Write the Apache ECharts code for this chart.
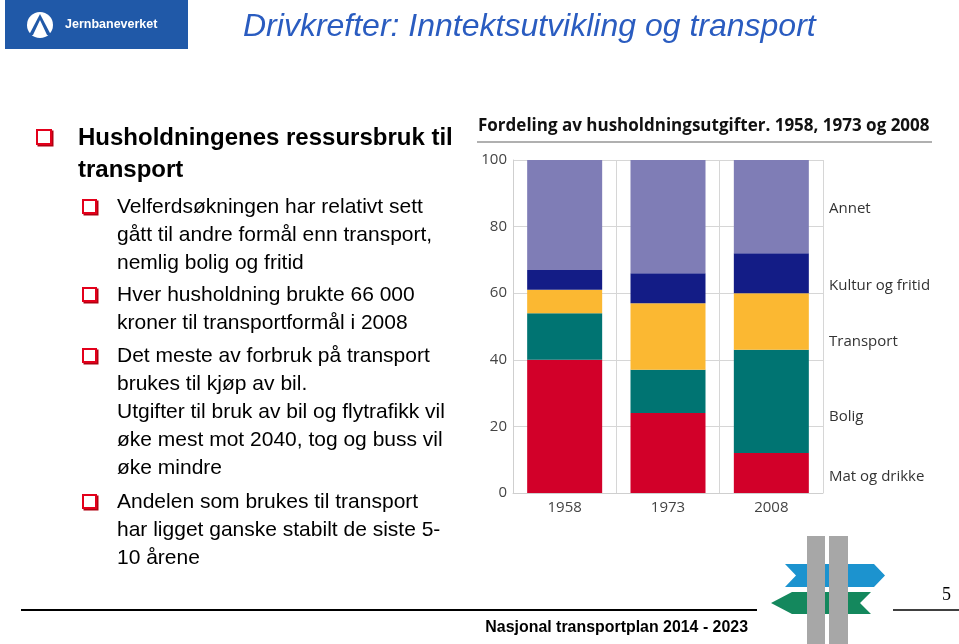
<!DOCTYPE html>
<html>
<head>
<meta charset="utf-8">
<script src="https://cdn.jsdelivr.net/npm/echarts@6/dist/echarts.min.js"></script>
<style>
  html, body { margin: 0; padding: 0; background: #fff; }
  #main { width: 959px; height: 644px; }
</style>
</head>
<body>
<div id="main"></div>
<script>
// data
var years = ["1958", "1973", "2008"];
var matOgDrikke = [40, 24, 12];
var bolig = [14, 13, 31];
var transport = [7, 20, 17];
var kulturOgFritid = [6, 9, 12];
var annet = [33, 34, 28];
var seriesNames = ["Mat og drikke", "Bolig", "Transport", "Kultur og fritid", "Annet"];
var seriesColors = ["#d20029", "#007472", "#fbb832", "#131c86", "#7f7db6"];
var legendY = [477, 417, 342, 286, 209];

var chartTitle = "Fordeling av husholdningsutgifter. 1958, 1973 og 2008";
var slideTitle = "Drivkrefter: Inntektsutvikling og transport";
var footer = "Nasjonal transportplan 2014 - 2023";

// slide text: [text, y, bold, x]
var lines = [
  ["Husholdningenes ressursbruk til", 138, true, 78],
  ["transport", 170, true, 78],
  ["Velferdsøkningen har relativt sett", 207, false, 117],
  ["gått til andre formål enn transport,", 235, false, 117],
  ["nemlig bolig og fritid", 263, false, 117],
  ["Hver husholdning brukte 66 000", 295, false, 117],
  ["kroner til transportformål i 2008", 323, false, 117],
  ["Det meste av forbruk på transport", 356, false, 117],
  ["brukes til kjøp av bil.", 384, false, 117],
  ["Utgifter til bruk av bil og flytrafikk vil", 412, false, 117],
  ["øke mest mot 2040, tog og buss vil", 440, false, 117],
  ["øke mindre", 468, false, 117],
  ["Andelen som brukes til transport", 502, false, 117],
  ["har ligget ganske stabilt de siste 5-", 530, false, 117],
  ["10 årene", 558, false, 117]
];
// bullets: [x, y, size]
var bullets = [[37, 130, 14], [83, 200, 13], [83, 288, 13], [83, 349, 13], [83, 495, 13]];

var chart = echarts.init(document.getElementById("main"), null, { renderer: "canvas" });

var graphics = [];

// logo top left
graphics.push({ type: "rect", shape: { x: 5, y: 0, width: 183, height: 49 }, style: { fill: "#2059a8" } });
graphics.push({ type: "circle", shape: { cx: 40, cy: 25, r: 13 }, style: { fill: "#fff" } });
graphics.push({ type: "polygon", shape: { points: [[40, 14], [51, 35], [29, 35]] }, style: { fill: "#2059a8" } });
graphics.push({ type: "polygon", shape: { points: [[40, 20], [47, 35], [33, 35]] }, style: { fill: "#fff" } });
graphics.push({ type: "text", style: { text: "Jernbaneverket", x: 65, y: 25, fill: "#fff", font: "bold 12.5px 'Liberation Sans'", verticalAlign: "middle" } });

// slide title
graphics.push({ type: "text", style: { text: slideTitle, x: 243, y: 27, fill: "#2a5cc0", font: "italic 32px 'Liberation Sans'", verticalAlign: "middle" } });

// bullets
bullets.forEach(function (b) {
  graphics.push({ type: "rect", shape: { x: b[0] + 1.5, y: b[1] + 1.5, width: b[2], height: b[2] }, style: { fill: "none", stroke: "#b00010", lineWidth: 2 } });
  graphics.push({ type: "rect", shape: { x: b[0], y: b[1], width: b[2], height: b[2] }, style: { fill: "#fff", stroke: "#e3001b", lineWidth: 2 } });
});

lines.forEach(function (l) {
  graphics.push({
    type: "text",
    style: {
      text: l[0], x: l[3], y: l[1], fill: "#000",
      font: (l[2] ? "bold 24px" : "21px") + " 'Liberation Sans'",
      verticalAlign: "middle"
    }
  });
});

// chart title + rule
graphics.push({ type: "text", style: { text: chartTitle, x: 478, y: 126, fill: "#111", font: "bold 17px 'Open Sans'", verticalAlign: "middle" } });
graphics.push({ type: "line", shape: { x1: 477, y1: 142, x2: 932, y2: 142 }, style: { stroke: "#b0b0b0", lineWidth: 2 } });

// series labels on the right
seriesNames.forEach(function (n, i) {
  graphics.push({ type: "text", style: { text: n, x: 829, y: legendY[i], fill: "#333", font: "15px 'Open Sans'", verticalAlign: "middle" } });
});

// footer
graphics.push({ type: "line", shape: { x1: 21, y1: 610, x2: 757, y2: 610 }, style: { stroke: "#000", lineWidth: 2 } });
graphics.push({ type: "text", x: 748, y: 627, scaleX: 0.936, style: { text: footer, x: 0, y: 0, fill: "#000", font: "bold 17px 'Liberation Sans'", align: "right", verticalAlign: "middle" } });

// signpost logo
graphics.push({ type: "polygon", shape: { points: [[785, 564], [874, 564], [885, 575.5], [874, 587], [785, 587], [796, 575.5]] }, style: { fill: "#1c93cf" } });
graphics.push({ type: "polygon", shape: { points: [[771, 603], [792, 592], [871, 592], [860, 603], [871, 614], [792, 614]] }, style: { fill: "#14885d" } });
graphics.push({ type: "rect", shape: { x: 807, y: 536, width: 18, height: 108 }, style: { fill: "#a7a7a7" } });
graphics.push({ type: "rect", shape: { x: 829, y: 536, width: 19, height: 108 }, style: { fill: "#a7a7a7" } });

// page number
graphics.push({ type: "text", style: { text: "5", x: 942, y: 595, fill: "#000", font: "18px 'Liberation Serif'", verticalAlign: "middle" } });
graphics.push({ type: "line", shape: { x1: 893, y1: 610, x2: 959, y2: 610 }, style: { stroke: "#000", lineWidth: 1.5 } });

var values = [matOgDrikke, bolig, transport, kulturOgFritid, annet];

var option = {
  backgroundColor: "#fff",
  animation: false,
  grid: {
    left: 513,
    top: 160,
    width: 310,
    height: 333
  },
  xAxis: {
    type: "category",
    data: years,
    axisLine: { lineStyle: { color: "#cfcfcf" } },
    axisTick: { show: false },
    splitLine: { show: true, lineStyle: { color: "#d6d6d6" } },
    axisLabel: { color: "#444", fontSize: 15, fontFamily: "Open Sans", margin: 7 }
  },
  yAxis: {
    type: "value",
    min: 0,
    max: 100,
    interval: 20,
    axisLine: { show: true, lineStyle: { color: "#cfcfcf" } },
    axisTick: { show: false },
    splitLine: { show: true, lineStyle: { color: "#d6d6d6" } },
    axisLabel: { color: "#444", fontSize: 15, fontFamily: "Open Sans", margin: 6 }
  },
  series: seriesNames.map(function (n, i) {
    return {
      name: n,
      type: "bar",
      stack: "total",
      barWidth: 75,
      itemStyle: { color: seriesColors[i] },
      data: values[i]
    };
  }),
  graphic: graphics
};

chart.setOption(option);
</script>
</body>
</html>
